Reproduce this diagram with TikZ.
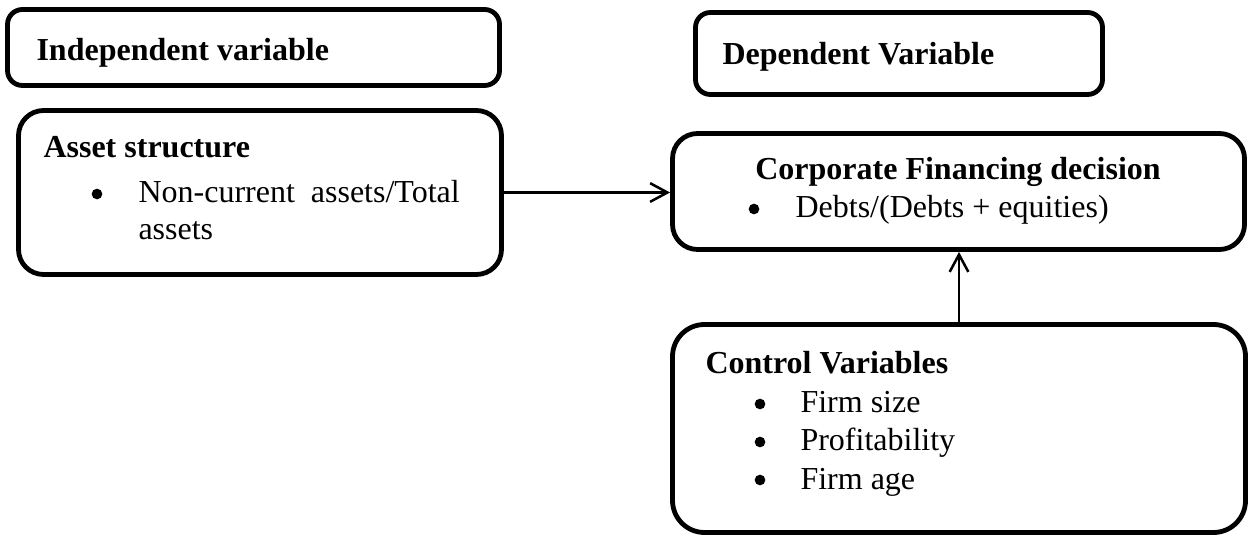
\documentclass[tikz,border=0pt]{standalone}
\usepackage{fontspec}
\setmainfont{Liberation Serif}
\usetikzlibrary{arrows.meta}
\begin{document}
\begin{tikzpicture}[x=0.375pt,y=-0.375pt,
  frame/.style={draw=black, line width=1.8pt, inner sep=0pt},
  txt/.style={inner sep=0pt, anchor=base west, font=\fontsize{12}{14}\selectfont},
  hd/.style={txt, font=\fontsize{12}{14}\selectfont\bfseries},
  bul/.style={circle, fill=black, inner sep=0pt, minimum size=4pt},
  conn/.style={draw=black, line width=0.95pt, -{Straight Barb[length=6.5pt,width=7pt,line width=0.95pt]}}]
\useasboundingbox (0,0) rectangle (1254,537);

% boxes
\node[frame, rounded corners=5.6pt, minimum width={492*0.375pt}, minimum height={76*0.375pt}] (indep) at (253.5,47.5) {};
\node[frame, rounded corners=5.6pt, minimum width={407*0.375pt}, minimum height={82*0.375pt}] (dep) at (899,53.5) {};
\node[frame, rounded corners=9.4pt, minimum width={483*0.375pt}, minimum height={164*0.375pt}] (asset) at (260,192.5) {};
\node[frame, rounded corners=9.4pt, minimum width={572*0.375pt}, minimum height={116*0.375pt}] (corp) at (958.5,191.5) {};
\node[frame, rounded corners=12pt, minimum width={573*0.375pt}, minimum height={208*0.375pt}] (ctrl) at (959,428.5) {};

% texts
\node[hd] (tindep) at (36,61) {Independent variable};
\node[hd] (tdep) at (722,65) {Dependent Variable};

\node[hd] (tasset) at (43,158) {Asset structure};
\node[bul] (b1) at (97,194) {};
\node[txt] (a1) at (138,203) {Non-current\ \ assets/Total};
\node[txt] (a2) at (138,240) {assets};

\node[inner sep=0pt, anchor=base, font=\fontsize{12}{14}\selectfont\bfseries] (tcorp) at (958,180) {Corporate Financing decision};
\node[bul] (b2) at (754,209) {};
\node[txt] (c1) at (795,218) {Debts/(Debts + equities)};

\node[hd] (tctrl) at (705,374) {Control Variables};
\node[bul] (b3) at (760,404) {};
\node[txt] (k1) at (800,413) {Firm size};
\node[bul] (b4) at (760,442) {};
\node[txt] (k2) at (800,451) {Profitability};
\node[bul] (b5) at (760,480) {};
\node[txt] (k3) at (800,489) {Firm age};

% connectors
\draw[conn] (asset.east) -- (asset.east -| corp.west);
\draw[conn] (ctrl.north) -- (ctrl.north |- corp.south);
\end{tikzpicture}
\end{document}
